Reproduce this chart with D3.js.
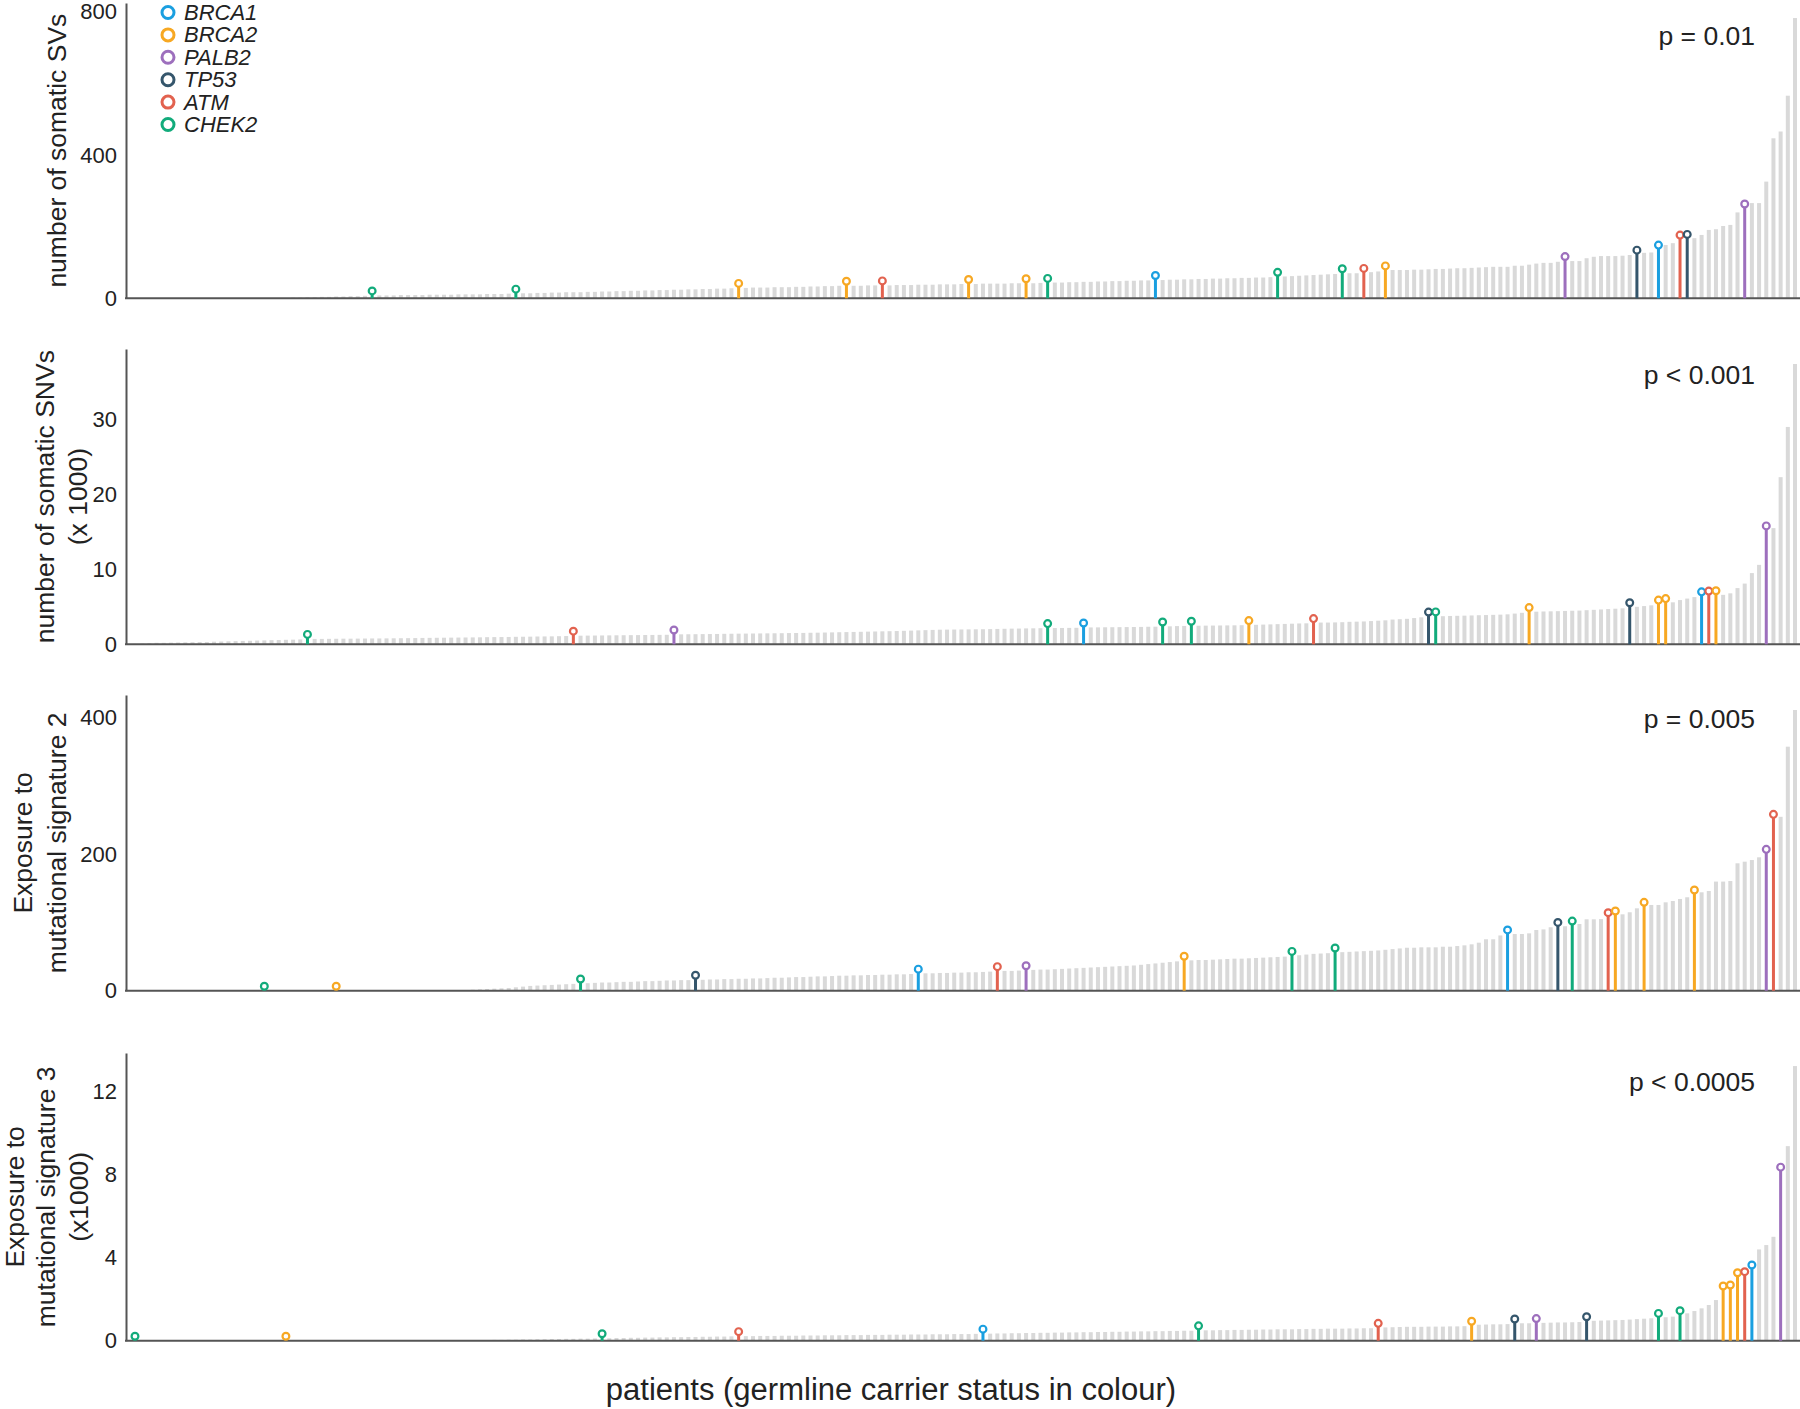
<!DOCTYPE html>
<html>
<head>
<meta charset="utf-8">
<script src="https://cdn.jsdelivr.net/npm/d3@7"></script>
<style>
  html, body { margin: 0; padding: 0; background: #fff; }
  svg { display: block; font-family: Arial, "Liberation Sans", sans-serif; }
</style>
</head>
<body>
<script>
// germline genes and their colours
const genes = ["BRCA1", "BRCA2", "PALB2", "TP53", "ATM", "CHEK2"];
const geneColors = ["#1a9fe0", "#f7a823", "#9d6fbd", "#35566c", "#e2624f", "#12ab7b"];

// panel 1: number of somatic SVs per patient (sorted)
const svValues = [
  0,0,0,0,0,0,0,0,0,0,0,0,0,0,0,0,0,0,0,0,
  1,1,2,2,3,3,4,4,5,5,6,6,7,
  8,
  8,8,8,9,9,9,9,10,10,10,10,11,11,11,11,12,12,12,13,
  13,
  14,14,15,15,16,16,17,17,17,18,18,19,19,20,20,21,21,22,22,23,23,24,24,25,25,26,26,27,27,28,
  29,
  29,30,30,30,31,31,31,32,32,33,33,34,34,35,
  35,
  35,35,36,36,
  36,
  36,37,37,37,38,38,38,39,39,39,40,
  40,
  40,41,41,41,41,42,42,
  42,
  42,43,
  43,
  44,44,45,45,46,46,47,47,48,48,49,49,50,50,
  51,
  51,52,52,53,53,54,54,55,55,56,56,57,57,58,58,59,
  60,
  61,62,63,64,65,66,67,68,
  70,
  70,70,
  71,
  73,75,
  78,
  79,79,79,80,80,81,82,82,83,84,84,85,86,87,88,88,88,91,91,94,97,99,99,102,
  104,104,104,112,116,118,118,118,119,121,122,127,128,136,149,154,164,166,168,177,
  191,193,202,205,240,251,266,266,326,447,466,566,783
];
const svCarrierIdx = [33, 53, 84, 99, 104, 116, 124, 127, 142, 159, 168, 171, 174, 199, 209, 212, 215, 216, 224];
const svCarrierGene = ["CHEK2", "CHEK2", "BRCA2", "BRCA2", "ATM", "BRCA2", "BRCA2", "CHEK2", "BRCA1", "CHEK2",
  "CHEK2", "ATM", "BRCA2", "PALB2", "TP53", "BRCA1", "ATM", "TP53", "PALB2"];

// panel 2: number of somatic SNVs (x 1000)
const snvValues = [
  0.05,0.1,0.15,
  0.2,0.2,0.22,0.24,0.26,0.28,0.3,0.3,
  0.35,0.37,0.4,0.42,0.45,0.47,0.5,0.52,0.55,0.57,0.6,0.62,0.65,
  0.72,
  0.72,0.72,0.73,0.74,0.75,0.75,0.76,0.77,0.78,0.78,0.79,0.8,0.81,0.82,0.83,0.85,
  0.86,0.87,0.88,0.89,0.9,0.91,0.92,0.93,0.95,0.96,0.97,0.98,1.0,1.01,1.02,1.04,1.05,1.06,1.08,1.1,
  1.15,
  1.15,1.16,1.17,1.18,1.19,1.2,1.21,1.22,1.23,1.24,1.25,1.26,1.27,
  1.3,
  1.33,1.34,1.35,1.36,1.37,1.38,1.4,1.41,1.42,1.43,1.44,1.45,1.46,1.47,1.48,1.5,1.51,1.52,1.54,1.55,
  1.57,1.59,1.61,1.63,1.65,1.67,1.69,1.71,1.73,1.75,1.77,1.8,1.83,1.86,1.89,1.92,1.95,
  1.96,1.97,1.98,1.99,2.0,2.01,2.03,2.05,2.07,2.09,2.1,2.12,2.13,2.15,
  2.16,
  2.17,2.18,2.19,2.2,
  2.24,
  2.25,2.26,2.27,2.28,2.29,2.3,2.31,2.32,2.34,2.35,
  2.37,
  2.4,2.43,2.45,
  2.47,
  2.48,2.49,2.5,2.51,2.52,2.53,2.55,
  2.56,
  2.6,2.63,2.66,2.69,2.72,2.75,2.78,2.8,
  2.83,
  2.9,2.9,2.92,2.95,3.0,3.02,3.05,3.1,3.15,3.2,3.3,3.35,3.4,3.5,3.6,
  3.7,3.72,
  3.75,3.78,3.8,3.82,3.85,3.88,3.9,3.93,3.96,4.0,4.1,4.2,
  4.3,
  4.35,4.38,4.4,4.42,4.45,4.48,4.5,4.55,4.6,4.65,4.7,4.75,4.8,
  4.95,
  5.0,5.1,5.2,
  5.3,5.5,
  5.6,5.9,6.1,6.3,
  6.4,6.5,6.55,
  6.6,6.8,7.5,8.1,9.5,10.6,
  15.2,
  15.5,22.3,29.0,37.4
];
const snvCarrierIdx = [24, 61, 75, 127, 132, 143, 147, 155, 164, 180, 181, 194, 208, 212, 213, 218, 219, 220, 227];
const snvCarrierGene = ["CHEK2", "ATM", "PALB2", "CHEK2", "BRCA1", "CHEK2", "CHEK2", "BRCA2", "ATM", "TP53",
  "CHEK2", "BRCA2", "TP53", "BRCA2", "BRCA2", "BRCA1", "ATM", "BRCA2", "PALB2"];

// panel 3: exposure to mutational signature 2
const sig2Values = [
  0,0,0,0,0,0,0,0,0,0,0,0,0,0,0,0,0,0,0,0,0,0,0,0,0,0,0,0,0,0,0,0,0,0,0,0,0,0,0,0,0,0,0,0,0,
  0.5,1,1.5,2,2.5,3,3.5,4,5,6,7,7.5,8,8.5,9,9.5,10,
  10.5,
  11,11.5,12,12,12.5,13,13,13.5,14,14,14.5,15,15,15.5,15.5,
  16,
  16,16.5,16.5,17,17,17.5,17.5,18,18,18.5,19,19,19.5,20,20,20.5,21,21,21.5,22,22,22.5,22.5,23,23,23.5,23.5,24,24,24.5,
  25,
  25.5,25.5,26,26,26.5,26.5,27,27,27.5,28,
  28.7,
  29,29,29.5,
  30,
  30.5,31,31,31.5,32,32.5,33,33.5,34,34.5,35,35.5,36,36.5,37,38,39,40,41,42,43,
  44,
  44.5,45,45,45.5,46,46.5,47,47,47.5,48,48.5,49,49.5,50,
  51,
  52,53,54,54.5,55,
  56,
  56.5,57,57.5,58,58.5,59,60,61,62,
  63,63,63.6,63.6,63.6,64.5,64.5,65.5,66.5,
  68,70.4,75.4,75.4,81,
  82.5,
  83.1,83.1,84.1,89,89.9,93,
  93.5,
  94.5,
  95.5,
  97.8,104.7,104.7,105,
  107.8,
  110.3,
  112,115,120.8,
  123,
  125.7,125.7,129.6,131.5,134.5,137,
  141,
  144.3,146.2,160,160,160.8,186.8,189.2,191.6,195.6,
  200.7,
  252,
  255,357.8,411.6
];
const sig2CarrierIdx = [18, 28, 62, 78, 109, 120, 124, 146, 161, 167, 191, 198, 200, 205, 206, 210, 217, 227, 228];
const sig2CarrierGene = ["CHEK2", "BRCA2", "CHEK2", "TP53", "BRCA1", "ATM", "PALB2", "BRCA2", "CHEK2", "CHEK2",
  "BRCA1", "TP53", "CHEK2", "ATM", "BRCA2", "BRCA2", "BRCA2", "PALB2", "ATM"];

// panel 4: exposure to mutational signature 3 (x1000)
const sig3Values = [
  0,0,0,0,0,0,0,0,0,0,0,0,0,0,0,0,0,0,0,0,0,0,0,0,0,0,0,0,0,0,0,0,0,0,0,0,0,0,0,0,0,0,0,0,0,
  0.01,0.02,0.02,0.03,0.03,0.04,0.04,0.05,0.05,0.06,0.06,0.07,0.07,0.08,0.08,0.09,0.09,0.1,0.1,0.11,
  0.12,
  0.12,0.13,0.13,0.14,0.14,0.15,0.15,0.16,0.16,0.17,0.17,0.18,0.18,0.19,0.19,0.2,0.2,0.21,
  0.22,
  0.22,0.22,0.23,0.23,0.23,0.24,0.24,0.24,0.25,0.25,0.25,0.26,0.26,0.26,0.27,0.27,0.27,0.28,0.28,0.28,
  0.29,0.29,0.29,0.3,0.3,0.3,0.31,0.31,0.31,0.32,0.32,0.32,0.33,
  0.34,
  0.34,0.35,0.35,0.36,0.36,0.37,0.37,0.38,0.38,0.39,0.39,0.4,0.4,0.41,0.41,0.42,0.42,0.43,0.43,0.44,
  0.44,0.45,0.45,0.46,0.46,0.47,0.47,0.48,0.48,
  0.5,
  0.5,0.5,0.51,0.51,0.52,0.52,0.53,0.53,0.54,0.54,0.55,0.55,0.55,0.56,0.56,0.57,0.57,0.58,0.58,0.58,0.59,0.59,0.6,0.6,
  0.62,
  0.64,0.65,0.66,
  0.67,0.67,0.67,0.68,0.68,0.68,0.69,0.69,0.7,
  0.72,
  0.77,0.78,0.79,0.79,0.8,
  0.83,
  0.84,0.84,
  0.85,
  0.86,0.87,0.88,0.88,0.89,0.9,
  0.94,
  0.96,0.97,0.98,0.99,1.0,1.02,1.04,1.06,1.08,
  1.1,
  1.13,1.16,
  1.23,
  1.32,1.43,1.56,1.72,1.96,
  2.42,2.47,3.06,3.11,3.43,
  4.4,4.61,5.01,
  8.15,
  9.38,13.24
];
const sig3CarrierIdx = [0, 21, 65, 84, 118, 148, 173, 186, 192, 195, 202, 212, 215, 221, 222, 223, 224, 225, 229];
const sig3CarrierGene = ["CHEK2", "BRCA2", "CHEK2", "ATM", "BRCA1", "CHEK2", "ATM", "BRCA2", "TP53", "PALB2",
  "TP53", "CHEK2", "CHEK2", "BRCA2", "BRCA2", "BRCA2", "ATM", "BRCA1", "PALB2"];

// panel layout (pixel positions in the 1800 x 1409 page)
const panels = [
  { values: svValues, idx: svCarrierIdx, gene: svCarrierGene, top: 3, base: 298.3, max: 825,
    ticks: [0, 400, 800], title: ["number of somatic SVs"], titleX: [57], pLabel: "p = 0.01", pY: 45 },
  { values: snvValues, idx: snvCarrierIdx, gene: snvCarrierGene, top: 349, base: 644.3, max: 39.4,
    ticks: [0, 10, 20, 30], title: ["number of somatic SNVs", "(x 1000)"], titleX: [45, 78], pLabel: "p < 0.001", pY: 384 },
  { values: sig2Values, idx: sig2CarrierIdx, gene: sig2CarrierGene, top: 695, base: 990.7, max: 433.6,
    ticks: [0, 200, 400], title: ["Exposure to", "mutational signature 2"], titleX: [23, 57], pLabel: "p = 0.005", pY: 728 },
  { values: sig3Values, idx: sig3CarrierIdx, gene: sig3CarrierGene, top: 1053, base: 1340.7, max: 13.87,
    ticks: [0, 4, 8, 12], title: ["Exposure to", "mutational signature 3", "(x1000)"], titleX: [15, 46, 79], pLabel: "p < 0.0005", pY: 1091 }
];

const W = 1800, H = 1409;
const axisX = 126;
const colorOf = d3.scaleOrdinal().domain(genes).range(geneColors);

const svg = d3.select("body").append("svg")
  .attr("width", W)
  .attr("height", H);

panels.forEach(p => {
  const n = p.values.length;
  const x = d3.scaleBand().domain(d3.range(n)).range([131.4, 1798.6]);
  const y = d3.scaleLinear().domain([0, p.max]).range([p.base, p.top]);
  const carrierSet = new Set(p.idx);
  const g = svg.append("g");

  // grey bars for non-carriers
  g.selectAll("rect.bar")
    .data(p.values.map((v, i) => ({ v, i })).filter(d => !carrierSet.has(d.i) && d.v > 0))
    .join("rect")
    .attr("class", "bar")
    .attr("x", d => x(d.i) + x.bandwidth() / 2 - 2)
    .attr("width", 4)
    .attr("y", d => y(d.v))
    .attr("height", d => p.base - y(d.v))
    .attr("fill", "#d9d9d9");

  // axes
  const yAxis = d3.axisLeft(y).tickValues(p.ticks).tickSize(0).tickPadding(9).tickSizeOuter(0);
  const ax = g.append("g").attr("transform", `translate(${axisX},0)`).call(yAxis);
  ax.select(".domain").attr("stroke", "#555").attr("stroke-width", 2);
  ax.selectAll("text").attr("font-size", 22).attr("fill", "#222")
    .attr("font-family", "Arial, 'Liberation Sans', sans-serif");
  g.append("line")
    .attr("x1", axisX - 1).attr("x2", W)
    .attr("y1", p.base).attr("y2", p.base)
    .attr("stroke", "#555").attr("stroke-width", 2);

  // carrier lollipops
  const carriers = p.idx.map((i, k) => ({ i, v: p.values[i], gene: p.gene[k] }));
  g.selectAll("rect.stem")
    .data(carriers.filter(d => d.v > 0))
    .join("rect")
    .attr("class", "stem")
    .attr("x", d => x(d.i) + x.bandwidth() / 2 - 1.5)
    .attr("width", 3)
    .attr("y", d => y(d.v) - 2)
    .attr("height", d => p.base - y(d.v) + 2)
    .attr("fill", d => colorOf(d.gene));
  g.selectAll("circle.head")
    .data(carriers)
    .join("circle")
    .attr("class", "head")
    .attr("cx", d => x(d.i) + x.bandwidth() / 2)
    .attr("cy", d => y(d.v) - 4.5)
    .attr("r", 3.4)
    .attr("fill", "#fff")
    .attr("stroke", d => colorOf(d.gene))
    .attr("stroke-width", 2.2);

  // y title
  const cy = (p.top + p.base) / 2;
  p.title.forEach((t, k) => {
    g.append("text")
      .attr("transform", `translate(${p.titleX[k]},${cy}) rotate(-90)`)
      .attr("text-anchor", "middle")
      .attr("dominant-baseline", "central")
      .attr("font-size", 26.5)
      .attr("fill", "#222")
      .text(t);
  });

  // p value
  g.append("text")
    .attr("x", 1755).attr("y", p.pY)
    .attr("text-anchor", "end")
    .attr("font-size", 26.5)
    .attr("fill", "#222")
    .text(p.pLabel);
});

// legend
const legend = svg.append("g");
genes.forEach((gname, k) => {
  const ly = 12.5 + k * 22.4;
  legend.append("circle")
    .attr("cx", 168).attr("cy", ly).attr("r", 6)
    .attr("fill", "#fff")
    .attr("stroke", colorOf(gname))
    .attr("stroke-width", 3);
  legend.append("text")
    .attr("x", 184).attr("y", ly)
    .attr("dominant-baseline", "central")
    .attr("font-size", 22)
    .attr("font-style", "italic")
    .attr("fill", "#222")
    .text(gname);
});

// x label
svg.append("text")
  .attr("x", 891).attr("y", 1389)
  .attr("text-anchor", "middle")
  .attr("dominant-baseline", "central")
  .attr("font-size", 31)
  .attr("fill", "#222")
  .text("patients (germline carrier status in colour)");
</script>
</body>
</html>
